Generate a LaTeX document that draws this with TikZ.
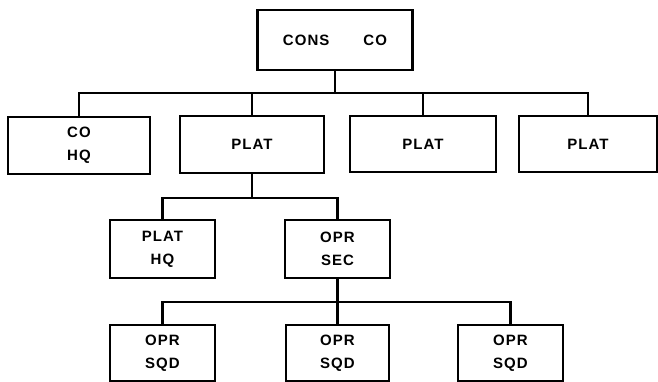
\documentclass[tikz,border=0pt]{standalone}
\usepackage{fontspec}
\setmainfont{Liberation Sans}[LetterSpace=7]
\begin{document}
\begin{tikzpicture}[x=1pt,y=-1pt,
  box/.style={draw=black,line width=2.4pt,rectangle,inner sep=0pt,align=center,
    font=\fontsize{15}{23}\selectfont\bfseries},
  link/.style={draw=black,line width=2.4pt}]
\useasboundingbox (0,0) rectangle (658,382);
% row 1
\node[box,minimum width=155pt,minimum height=60pt] (top) at (335,40) {CONS\hspace{34pt}CO};
% row 2
\node[box,minimum width=142pt,minimum height=57pt] (cohq) at (79,145.5) {CO\\HQ};
\node[box,minimum width=144pt,minimum height=57pt] (plat1) at (252,144.5) {PLAT};
\node[box,minimum width=146pt,minimum height=56pt] (plat2) at (423,144) {PLAT};
\node[box,minimum width=138pt,minimum height=56pt] (plat3) at (588,144) {PLAT};
% row 3
\node[box,minimum width=105pt,minimum height=58pt] (plathq) at (162.5,249) {PLAT\\HQ};
\node[box,minimum width=105pt,minimum height=58pt] (oprsec) at (337.5,249) {OPR\\SEC};
% row 4
\node[box,minimum width=105pt,minimum height=56pt] (sqd1) at (162.5,353) {OPR\\SQD};
\node[box,minimum width=103pt,minimum height=56pt] (sqd2) at (337.5,353) {OPR\\SQD};
\node[box,minimum width=105pt,minimum height=56pt] (sqd3) at (510.5,353) {OPR\\SQD};
% bus coordinates
\coordinate (busA) at (0,93);
\coordinate (busB) at (0,198);
\coordinate (busC) at (0,302);
% connectors level 1
\draw[link] (top.south) -- (top.south |- busA);
\draw[link] (cohq.north) -- (cohq.north |- busA) -- (plat3.north |- busA) -- (plat3.north);
\draw[link] (plat1.north) -- (plat1.north |- busA);
\draw[link] (plat2.north) -- (plat2.north |- busA);
% connectors level 2
\draw[link] (plat1.south) -- (plat1.south |- busB);
\draw[link] (plathq.north) -- (plathq.north |- busB) -- (oprsec.north |- busB) -- (oprsec.north);
% connectors level 3
\draw[link] (oprsec.south) -- (sqd2.north);
\draw[link] (sqd1.north) -- (sqd1.north |- busC) -- (sqd3.north |- busC) -- (sqd3.north);
\end{tikzpicture}
\end{document}
